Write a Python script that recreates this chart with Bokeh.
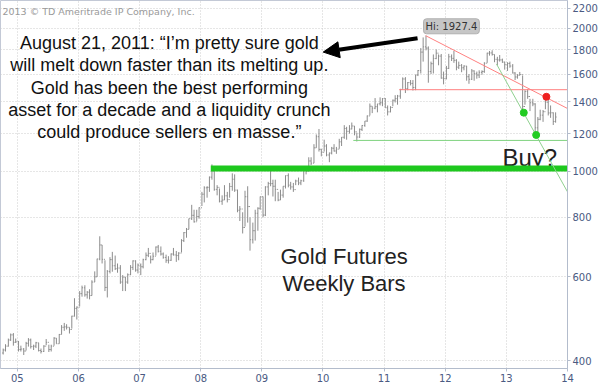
import math
import pandas as pd
from bokeh.plotting import figure
from bokeh.models import (ColumnDataSource, FixedTicker, NumeralTickFormatter, Label, Arrow,
                          NormalHead, GlobalInlineStyleSheet, Range1d)
from bokeh.embed import file_html
from bokeh.resources import INLINE
from bokeh.core.properties import value

# ---------------- data (semi-monthly bars, Oct 2004 .. Oct 2013) ----------------
first_period = "2004-10-01"
first_open = 415

highs = [
    424, 433, 445, 456, 457, 445,
    440, 430, 425, 438, 446, 445, 432, 438, 436, 424, 431, 444, 432, 432, 448, 446, 455, 475, 480, 477, 470, 497, 541, 520,
    560, 575, 576, 560, 565, 590, 616, 655, 730, 700, 650, 620, 660, 677, 665, 640, 635, 605, 600, 610, 635, 650, 650, 640,
    640, 655, 675, 690, 665, 675, 695, 700, 695, 675, 668, 663, 672, 690, 680, 676, 720, 745, 760, 795, 850, 830, 830, 840,
    905, 930, 930, 975, 1034, 1005, 935, 920, 890, 935, 905, 945, 990, 985, 915, 845, 820, 910, 930, 800, 780, 830, 840, 885,
    885, 930, 950, 1007, 960, 960, 905, 915, 930, 980, 990, 950, 945, 960, 970, 960, 1010, 1025, 1070, 1070, 1140, 1195, 1227, 1115,
    1165, 1140, 1095, 1125, 1140, 1125, 1170, 1180, 1250, 1240, 1250, 1266, 1245, 1205, 1230, 1250, 1275, 1310, 1388, 1370, 1425, 1385, 1430, 1425,
    1425, 1375, 1370, 1415, 1445, 1447, 1490, 1575, 1577, 1540, 1555, 1555, 1595, 1632, 1815, 1911, 1927.4, 1830, 1700, 1760, 1803, 1760, 1764, 1620,
    1665, 1765, 1760, 1790, 1720, 1700, 1680, 1670, 1665, 1600, 1640, 1630, 1620, 1630, 1630, 1695, 1775, 1790, 1796, 1760, 1740, 1755, 1725, 1700,
    1695, 1700, 1680, 1615, 1600, 1617, 1590, 1480, 1488, 1420, 1420, 1390, 1300, 1347, 1345, 1434, 1420, 1375, 1330, 1330,
]
lows = [
    412, 418, 428, 440, 430, 436,
    418, 418, 411, 420, 428, 424, 421, 425, 418, 414, 417, 431, 417, 418, 430, 434, 434, 454, 462, 465, 456, 467, 495, 488,
    520, 545, 545, 540, 538, 548, 585, 600, 650, 640, 560, 543, 610, 615, 620, 612, 580, 560, 560, 580, 605, 620, 615, 610,
    605, 625, 650, 660, 640, 650, 665, 675, 665, 655, 642, 640, 648, 665, 645, 650, 675, 710, 725, 755, 790, 780, 785, 795,
    845, 860, 880, 905, 960, 910, 890, 860, 850, 870, 860, 880, 910, 905, 820, 786, 740, 765, 780, 681, 705, 715, 750, 830,
    800, 805, 890, 930, 885, 865, 865, 870, 880, 920, 925, 915, 905, 935, 935, 935, 950, 985, 1000, 1030, 1040, 1120, 1100, 1075,
    1100, 1075, 1045, 1085, 1100, 1088, 1115, 1130, 1170, 1165, 1200, 1225, 1190, 1155, 1175, 1215, 1240, 1270, 1310, 1325, 1350, 1330, 1375, 1370,
    1360, 1310, 1330, 1370, 1395, 1380, 1420, 1490, 1460, 1480, 1515, 1478, 1480, 1585, 1605, 1700, 1795, 1535, 1600, 1605, 1720, 1670, 1565, 1523,
    1560, 1640, 1705, 1690, 1630, 1640, 1615, 1630, 1550, 1527, 1555, 1550, 1565, 1570, 1595, 1610, 1690, 1750, 1750, 1695, 1670, 1700, 1690, 1635,
    1625, 1650, 1605, 1555, 1565, 1590, 1322, 1380, 1420, 1338, 1370, 1180, 1208, 1280, 1270, 1350, 1310, 1295, 1251, 1265,
]
closes = [
    421, 429, 442, 453, 437, 438,
    422, 423, 419, 435, 442, 428, 429, 436, 420, 418, 429, 437, 422, 429, 446, 434, 454, 470, 471, 470, 465, 496, 515, 518,
    553, 569, 550, 557, 548, 585, 600, 654, 700, 653, 570, 616, 652, 633, 624, 626, 585, 599, 585, 606, 628, 648, 620, 635,
    630, 652, 666, 672, 652, 663, 693, 679, 670, 659, 650, 650, 670, 667, 665, 673, 715, 743, 755, 795, 808, 783, 803, 838,
    895, 923, 925, 972, 1002, 916, 925, 865, 870, 888, 872, 929, 962, 913, 828, 833, 762, 884, 843, 718, 750, 816, 836, 884,
    809, 927, 942, 942, 930, 916, 870, 891, 930, 979, 935, 927, 915, 954, 945, 955, 1008, 1000, 1051, 1040, 1120, 1182, 1112, 1096,
    1130, 1082, 1092, 1118, 1103, 1113, 1153, 1179, 1230, 1213, 1227, 1245, 1210, 1180, 1225, 1248, 1275, 1307, 1370, 1357, 1367, 1386, 1393, 1421,
    1360, 1333, 1362, 1410, 1421, 1439, 1486, 1563, 1492, 1536, 1530, 1500, 1594, 1628, 1780, 1826, 1815, 1620, 1683, 1725, 1771, 1746, 1570, 1566,
    1645, 1740, 1727, 1711, 1655, 1669, 1650, 1664, 1580, 1561, 1625, 1604, 1593, 1614, 1620, 1687, 1771, 1773, 1760, 1719, 1714, 1714, 1696, 1675,
    1685, 1664, 1609, 1578, 1592, 1597, 1368, 1472, 1436, 1393, 1385, 1234, 1286, 1312, 1334, 1396, 1326, 1327, 1272, 1300,
]

year_ticks = [2005, 2006, 2007, 2008, 2009, 2010, 2011, 2012, 2013, 2014]
year_labels = ["05", "06", "07", "08", "09", "10", "11", "12", "13", "14"]
price_ticks = [400, 600, 800, 1000, 1200, 1400, 1600, 1800, 2000, 2200]

peak_label = "Hi: 1927.4"

red_line_dates = ["2011-09-06", "2014-01-01"]
red_line_values = [1927.4, 1355]
red_hline_dates = ["2011-04-01", "2014-01-01"]
red_hline_values = [1484, 1484]
red_dot_dates = ["2013-08-28"]
red_dot_values = [1434]

green_line_dates = ["2012-11-03", "2014-01-01"]
green_line_values = [1680, 905]
green_hline_dates = ["2010-07-01", "2014-01-01"]
green_hline_values = [1161, 1161]
green_band_dates = ["2008-03-01", "2014-01-01"]
green_band_values = [1013, 1013]
green_dot_dates = ["2013-04-15", "2013-06-28"]
green_dot_values = [1328, 1192]

quote_lines = [
    "August 21, 2011: \u201cI\u2019m pretty sure gold",
    "will melt down faster than its melting up.",
    "Gold has been the best performing",
    "asset for a decade and a liquidity crunch",
    "could produce sellers en masse.\u201d",
]
title_lines = ["Gold Futures", "Weekly Bars"]
buy_text = "Buy?"
copyright_text = "2013 \u00a9 TD Ameritrade IP Company, Inc."

# ---------------- helpers ----------------
def dyear(d):
    d = pd.Timestamp(d)
    days = 366 if d.is_leap_year else 365
    return d.year + (d.dayofyear - 1) / days

X0, X1 = 2004.724, 2014.0
Y0, Y1 = 385.0, 2285.0
FW, FH = 571.0, 371.0

def px_x(px):
    return X0 + px / FW * (X1 - X0)

def px_y(py):
    lo, hi = math.log10(Y0), math.log10(Y1)
    return 10 ** (hi - py / FH * (hi - lo))

n = min(len(highs), len(lows), len(closes))
bar_dates = pd.date_range(first_period, periods=n, freq="SMS") + pd.Timedelta(days=7)
xs = [dyear(d) for d in bar_dates]
opens = [first_open] + closes[:n - 1]
tick = 0.016
src = ColumnDataSource(dict(
    x=xs, xl=[v - tick for v in xs], xr=[v + tick for v in xs],
    h=highs[:n], l=lows[:n], c=closes[:n], o=opens,
))

# ---------------- figure ----------------
p = figure(width=600, height=384, x_range=Range1d(X0, X1), y_range=Range1d(Y0, Y1),
           y_axis_type="log", y_axis_location="right",
           output_backend="svg", toolbar_location=None,
           min_border_left=0, min_border_top=0, min_border_right=29, min_border_bottom=13)
p.stylesheets = [GlobalInlineStyleSheet(css="html, body { margin: 0 !important; padding: 0; overflow: hidden; }")]
p.background_fill_color = "white"
p.border_fill_color = "white"
p.outline_line_color = "#c3c9d6"

axis_color = "#b3bccc"
label_color = "#4a5a82"

p.yaxis.ticker = FixedTicker(ticks=price_ticks)
p.yaxis.formatter = NumeralTickFormatter(format="0")
p.xaxis.ticker = FixedTicker(ticks=year_ticks)
p.xaxis.major_label_overrides = {yv: lab for yv, lab in zip(year_ticks, year_labels)}
for ax in (p.xaxis, p.yaxis):
    ax.axis_line_color = axis_color
    ax.major_tick_line_color = axis_color
    ax.major_tick_out = 3
    ax.major_tick_in = 0
    ax.minor_tick_out = 0
    ax.minor_tick_in = 0
    ax.major_label_text_font = "DejaVu Sans"
    ax.major_label_text_font_size = "10px"
    ax.major_label_text_color = label_color
    ax.major_label_standoff = 2

p.xgrid.ticker = FixedTicker(ticks=year_ticks)
p.ygrid.ticker = FixedTicker(ticks=price_ticks)
for g in (p.xgrid, p.ygrid):
    g.grid_line_color = "#cccccc"
    g.grid_line_dash = "1 2"
    g.grid_line_width = 1

# Buy? text (drawn first so the band and line cover it)
p.text(x=[px_x(533)], y=[px_y(158)], text=[buy_text], text_font=value("Liberation Sans"),
       text_font_size=value("24px"), text_align="center", text_baseline="alphabetic",
       text_color="#222222")

# bars
bar_color = "#8c8c8c"
p.segment(x0="x", y0="l", x1="x", y1="h", source=src, line_color=bar_color, line_width=1)
p.segment(x0="x", y0="c", x1="xr", y1="c", source=src, line_color=bar_color, line_width=1)
p.segment(x0="xl", y0="o", x1="x", y1="o", source=src, line_color=bar_color, line_width=1)

# trend / support lines
p.line([dyear(d) for d in red_hline_dates], red_hline_values, line_color="#ff7f7f", line_width=1)
p.line([dyear(d) for d in red_line_dates], red_line_values, line_color="#ff8080", line_width=1)
p.line([dyear(d) for d in green_hline_dates], green_hline_values, line_color="#7fd27f", line_width=1)
p.line([dyear(d) for d in green_band_dates], green_band_values, line_color="#1ec81e", line_width=6,
       line_cap="butt")
p.line([dyear(d) for d in green_line_dates], green_line_values, line_color="#8fd08f", line_width=1)

p.scatter([dyear(d) for d in red_dot_dates], red_dot_values, size=7, fill_color="#ee2020",
          line_color="#ee2020")
p.scatter([dyear(d) for d in green_dot_dates], green_dot_values, size=7, fill_color="#22cc22",
          line_color="#22cc22")

# annotations
p.add_layout(Label(x=px_x(2), y=px_y(11), text=copyright_text, text_font="DejaVu Sans",
                   text_font_size="9.5px", text_color="#9a9a9a", text_baseline="middle",
                   text_align="left"))

for i, line in enumerate(quote_lines):
    p.add_layout(Label(x=px_x(170), y=px_y(43 + 22.5 * i), text=line, text_font="Liberation Sans",
                       text_font_size="18px", text_color="#111111", text_align="center",
                       text_baseline="middle"))

for i, line in enumerate(title_lines):
    p.add_layout(Label(x=px_x(346), y=px_y(258 + 27 * i), text=line, text_font="Liberation Sans",
                       text_font_size="22px", text_color="#222222", text_align="center",
                       text_baseline="middle"))

p.add_layout(Label(x=px_x(426), y=px_y(26), text=peak_label, text_font="DejaVu Sans",
                   text_font_size="10px", text_color="#333333", text_baseline="middle",
                   text_align="left", background_fill_color="#c6c6c6",
                   border_line_color="#b0b0b0", padding=2, border_radius=3))

p.add_layout(Arrow(end=NormalHead(size=16, fill_color="black", line_color="black"),
                   x_start=px_x(420), y_start=px_y(38), x_end=px_x(325), y_end=px_y(52),
                   line_width=4, line_color="black"))

open("out.html", "w").write(file_html(p, INLINE))
